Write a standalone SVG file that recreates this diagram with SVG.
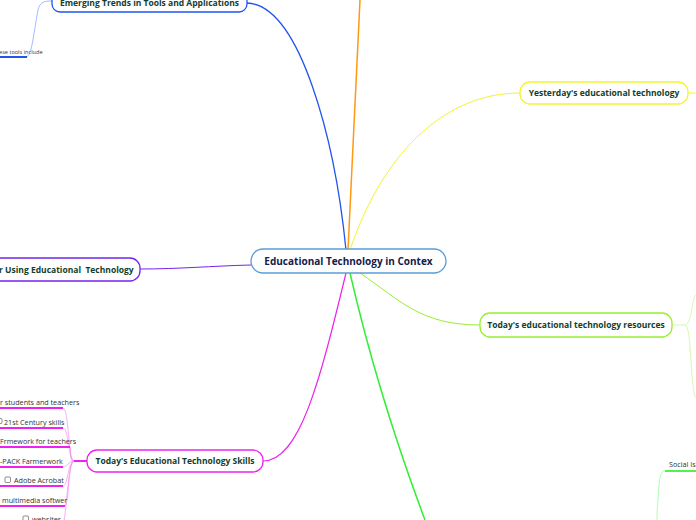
<svg xmlns="http://www.w3.org/2000/svg" width="696" height="520" viewBox="0 0 696 520">
<style>
.node{fill:#fff;stroke-width:1.3}
.t{font-family:"Open Sans","Noto Sans",sans-serif;font-weight:bold;fill:#123d2c;font-size:8.5px;text-anchor:middle}
.leaf{font-family:"Open Sans","Noto Sans",sans-serif;fill:#333;font-size:7.2px}
.c{fill:none}
.box{fill:#fff;stroke:#444;stroke-width:0.6}
</style>
<g id="connectors">
<path class="c" d="M346,250 C335,140 300,5 247,3" stroke="#2255ee" stroke-width="1.3"/>
<path class="c" d="M52,1 C44,1 40,2 38,10 C34,30 32,57 26,57" stroke="#88aaff" stroke-width="0.8"/>
<path class="c" d="M0,57 L27,57" stroke="#2255ee" stroke-width="2"/>
<path class="c" d="M348,250 C352,160 356,80 360,0" stroke="#ff9911" stroke-width="1.5"/>
<path class="c" d="M350,250 C380,160 440,93 520,93" stroke="#f4f430" stroke-width="1"/>
<path class="c" d="M688,93 L696,93" stroke="#f4f430" stroke-width="1"/>
<path class="c" d="M251,265 C210,266 180,269 140,269" stroke="#7722ee" stroke-width="1"/>
<path class="c" d="M360,273 C400,300 420,325 480,325" stroke="#99ee33" stroke-width="1"/>
<path class="c" d="M672,325 L685,325 C692,325 692,296 696,295 M685,325 C692,325 690,390 696,398" stroke="#ccf5a0" stroke-width="0.8"/>
<path class="c" d="M350,273 C370,360 395,440 425,520" stroke="#33ee33" stroke-width="1.5"/>
<path class="c" d="M665,471 C660,471 659,480 658,500 C657,510 657,515 657,520" stroke="#99ff99" stroke-width="0.8"/>
<path class="c" d="M665,471 L696,471" stroke="#55ee55" stroke-width="2"/>
<path class="c" d="M346,273 C320,380 300,461 263,461" stroke="#ee22ee" stroke-width="1.2"/>
<path class="c" d="M87,461 L74,461" stroke="#ee22ee" stroke-width="2"/>
<g stroke="#f48ef4" stroke-width="0.7" fill="none">
<path d="M74,461 C68,461 69,408 63,408"/>
<path d="M74,461 C68,461 69,428 63,428"/>
<path d="M74,461 C68,461 72,447 70,447"/>
<path d="M74,461 C68,461 68,467 63,467"/>
<path d="M74,461 C68,461 68,486 63,486"/>
<path d="M74,461 C68,461 69,506 65,506"/>
<path d="M74,461 C68,461 66,520 63,525"/>
</g>
<g stroke="#ee22ee" stroke-width="1.8" fill="none">
<path d="M0,408 L63,408"/>
<path d="M0,428 L63,428"/>
<path d="M0,447 L70,447"/>
<path d="M0,467 L63,467"/>
<path d="M0,486 L63,486"/>
<path d="M0,506 L65,506"/>
</g>
</g>
<g id="central">
<rect class="node" x="251" y="249" width="195" height="24" rx="12" stroke="#5a9fd8"/>
<text x="348.5" y="265" class="t" style="font-size:10px;fill:#14204a">Educational Technology in Contex</text>
</g>
<g id="emerging">
<rect class="node" x="52" y="-11" width="195" height="23" rx="8" stroke="#2255ee"/>
<text x="149.5" y="6" class="t">Emerging Trends in Tools and Applications</text>
</g>
<g id="emerging-leaf">
<text x="-1" y="54" class="leaf" style="font-size:5.6px">ese tools include</text>
</g>
<g id="yesterday">
<rect class="node" x="520" y="82" width="168" height="22" rx="10" stroke="#f4f430"/>
<text x="604" y="96" class="t">Yesterday's educational technology</text>
</g>
<g id="using">
<rect class="node" x="-40" y="258" width="180" height="23" rx="10" stroke="#7722ee"/>
<text x="-1" y="273" class="t" style="text-anchor:start">r Using Educational&#160; Technology</text>
</g>
<g id="resources">
<rect class="node" x="480" y="313" width="192" height="24" rx="10" stroke="#99ee33"/>
<text x="576" y="328" class="t">Today's educational technology resources</text>
</g>
<g id="social">
<text x="669" y="467" class="leaf">Social Is</text>
</g>
<g id="skills">
<rect class="node" x="87" y="450" width="176" height="22" rx="10" stroke="#ee22ee"/>
<text x="175" y="464" class="t">Today's Educational Technology Skills</text>
</g>
<g id="skill-leaves">
<text x="0" y="405" class="leaf">r students and teachers</text>
<rect class="box" x="-3" y="418.5" width="5" height="5" rx="1"/>
<text x="4" y="424.5" class="leaf">21st Century skills</text>
<text x="0" y="444" class="leaf">Frmework for teachers</text>
<text x="0" y="463.5" class="leaf">-PACK Farmerwork</text>
<rect class="box" x="5" y="477" width="5.5" height="5.5" rx="1"/>
<text x="14" y="483" class="leaf">Adobe Acrobat</text>
<text x="2" y="502.5" class="leaf">multimedia softwer</text>
<rect class="box" x="23" y="516" width="5.5" height="5.5" rx="1"/>
<text x="32" y="522" class="leaf">websites</text>
</g>
</svg>
